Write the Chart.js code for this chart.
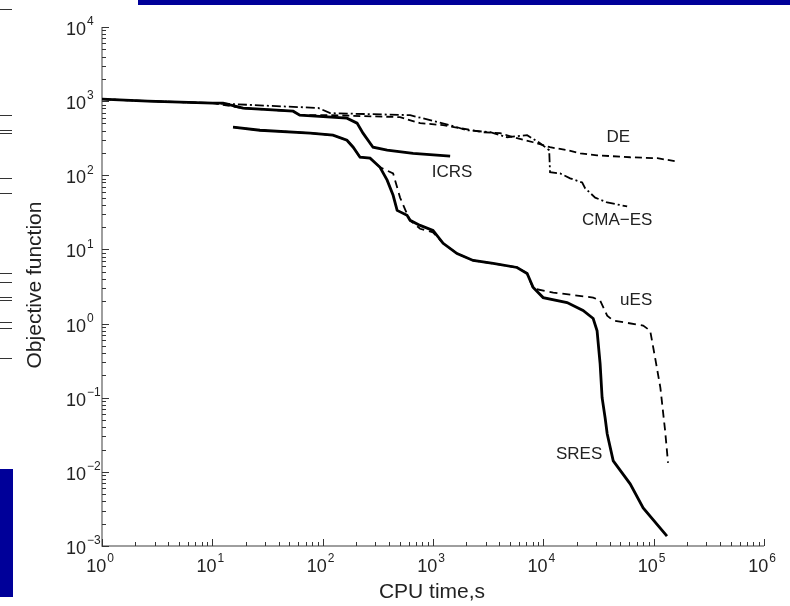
<!DOCTYPE html>
<html>
<head>
<meta charset="utf-8">
<script src="https://cdn.jsdelivr.net/npm/chart.js@4/dist/chart.umd.min.js"></script>
<style>
  body { margin: 0; background: #fff; }
  #wrap { position: relative; width: 790px; height: 606px; overflow: hidden; }
  canvas { position: absolute; left: 0; top: 0; }
  .bar { position: absolute; background: #000099; }
  .glyph { position: absolute; left: 0; width: 12px; height: 1px; background: #333; }
</style>
</head>
<body>
<div id="wrap">
  <canvas id="chart" width="790" height="606"></canvas>
  <div class="bar" style="left:138px;top:0;width:652px;height:5px"></div>
  <div class="bar" style="left:0;top:469px;width:13px;height:128px"></div>
</div>
<script>
// CPU time (s) / objective value pairs
const icrsTime = [1, 2.6, 10.1, 12.5, 19, 54, 62, 166, 205, 232, 286, 384, 660, 1430];
const icrsObj = [1064, 1000, 940, 940, 804, 732, 647, 589, 505, 370, 239, 218, 198, 181];

const deTime = [1, 2.6, 10.1, 19, 54, 62, 117, 503, 764, 1236, 1762, 2845, 4060, 5780, 8090, 11500, 16400, 21600, 30700, 61200, 108000, 157000];
const deObj = [1064, 1000, 940, 804, 732, 647, 647, 608, 505, 474, 432, 381, 370, 316, 279, 239, 218, 198, 186, 175, 170, 155];

const cmaTime = [1, 2.6, 10.1, 30, 91, 117, 620, 1430, 2040, 3300, 4700, 7130, 9350, 11300, 11500, 14200, 17500, 22500, 23900, 29500, 37900, 57500];
const cmaObj = [1064, 1000, 940, 870, 810, 689, 647, 474, 405, 381, 326, 347, 271, 218, 110, 106, 91, 80, 67, 50, 43, 38];

const sresTime = [15.4, 27, 77, 124, 166, 189, 218, 269, 331, 384, 435, 473, 582, 620, 764, 1000, 1236, 1652, 2311, 3510, 5780, 7130, 8090, 9960, 16400, 22900, 28300, 30700, 32700, 34100, 36300, 37900, 43000, 61200, 80300, 132000];
const sresObj = [445, 405, 370, 347, 297, 239, 175, 170, 128, 86, 53.7, 33.6, 28.8, 24.7, 21.1, 18.1, 12.1, 8.8, 7.1, 6.47, 5.71, 4.74, 3.07, 2.24, 1.92, 1.5, 1.17, 0.8, 0.288, 0.1, 0.0537, 0.0327, 0.0141, 0.00689, 0.00327, 0.00136];

const uesTime = [15.4, 27, 77, 124, 166, 189, 218, 269, 331, 435, 503, 582, 620, 764, 1000, 1236, 1652, 2311, 3510, 5780, 7130, 8090, 12300, 28300, 32700, 37900, 43000, 80300, 93000, 103000, 115000, 127000, 135000];
const uesObj = [445, 405, 370, 347, 297, 239, 175, 170, 128, 106, 50, 30, 24.7, 19, 17, 12.1, 8.8, 7.1, 6.47, 5.71, 4.74, 2.97, 2.62, 2.24, 2.05, 1.28, 1.1, 0.94, 0.8, 0.347, 0.137, 0.0358, 0.0132];

// curve names written beside the lines
const labelNames = ["DE", "ICRS", "CMA\u2212ES", "uES", "SRES"];
const labelTime = [47700, 1490, 46700, 69400, 21100];
const labelObj = [326, 110, 24.7, 2.05, 0.0175];

const xDecades = [0, 1, 2, 3, 4, 5, 6];
const yDecades = [-3, -2, -1, 0, 1, 2, 3, 4];

// stray marks of the neighbouring figure on the left edge
const glyphY = [9, 115, 130, 133, 178, 193, 273, 282, 297, 300, 322, 328, 358];
const wrap = document.getElementById("wrap");
glyphY.forEach((y) => {
  const g = document.createElement("div");
  g.className = "glyph";
  g.style.top = y + "px";
  wrap.appendChild(g);
});

const pts = (xs, ys) => xs.map((x, i) => ({ x: x, y: ys[i] }));
const FONT = '"Liberation Sans", Arial, sans-serif';

function drawPow(ctx, exp, x, y, align) {
  const base = "10";
  const e = String(exp).replace("-", "\u2212");
  ctx.font = "18px " + FONT;
  const bw = ctx.measureText(base).width;
  ctx.font = "12px " + FONT;
  const ew = ctx.measureText(e).width;
  let left = x;
  if (align === "center") left = x - (bw + ew + 1) / 2;
  ctx.textAlign = "left";
  ctx.textBaseline = "middle";
  ctx.font = "18px " + FONT;
  ctx.fillText(base, left, y);
  ctx.font = "12px " + FONT;
  ctx.fillText(e, left + bw + 1, y - 8);
}

const axesPlugin = {
  id: "axesPlugin",
  beforeDatasetsDraw(chart) {
    const ctx = chart.ctx;
    const xs = chart.scales.x;
    const ys = chart.scales.y;
    const a = chart.chartArea;
    ctx.save();
    ctx.strokeStyle = "#7f7f7f";
    ctx.lineWidth = 1.5;
    ctx.beginPath();
    ctx.moveTo(a.left, a.top);
    ctx.lineTo(a.left, a.bottom);
    ctx.lineTo(a.right, a.bottom);
    ctx.stroke();

    ctx.strokeStyle = "#333";
    ctx.lineWidth = 1;
    ctx.beginPath();
    xDecades.forEach((d) => {
      if (d === 6) return;
      for (let m = 1; m <= 9; m++) {
        const px = Math.round(xs.getPixelForValue(m * Math.pow(10, d))) + 0.5;
        const len = m === 1 ? 7 : 4;
        ctx.moveTo(px, a.bottom);
        ctx.lineTo(px, a.bottom - len);
      }
    });
    const px6 = Math.round(xs.getPixelForValue(1e6)) + 0.5;
    ctx.moveTo(px6, a.bottom);
    ctx.lineTo(px6, a.bottom - 7);
    yDecades.forEach((d) => {
      if (d === 4) return;
      for (let m = 1; m <= 9; m++) {
        const py = Math.round(ys.getPixelForValue(m * Math.pow(10, d))) + 0.5;
        const len = m === 1 ? 7 : 4;
        ctx.moveTo(a.left, py);
        ctx.lineTo(a.left + len, py);
      }
    });
    const py4 = Math.round(ys.getPixelForValue(1e4)) + 0.5;
    ctx.moveTo(a.left, py4);
    ctx.lineTo(a.left + 7, py4);
    ctx.stroke();

    ctx.fillStyle = "#222";
    xDecades.forEach((d) => {
      const px = xs.getPixelForValue(Math.pow(10, d));
      drawPow(ctx, d, px - 2, a.bottom + 21, "center");
    });
    yDecades.forEach((d) => {
      const py = ys.getPixelForValue(Math.pow(10, d));
      drawPow(ctx, d, 66, py + 3, "left");
    });

    ctx.font = "21px " + FONT;
    ctx.textAlign = "center";
    ctx.textBaseline = "middle";
    ctx.fillText("CPU time,s", 432, 592);
    ctx.translate(35, 285);
    ctx.rotate(-Math.PI / 2);
    ctx.fillText("Objective function", 0, 0);
    ctx.restore();
  },
  afterDraw(chart) {
    const ctx = chart.ctx;
    const xs = chart.scales.x;
    const ys = chart.scales.y;
    ctx.save();
    ctx.fillStyle = "#222";
    ctx.font = "17px " + FONT;
    ctx.textAlign = "center";
    ctx.textBaseline = "middle";
    labelNames.forEach((name, i) => {
      ctx.fillText(name, xs.getPixelForValue(labelTime[i]), ys.getPixelForValue(labelObj[i]));
    });
    ctx.restore();
  },
};

const line = (data, width, dash) => ({
  data: data,
  borderColor: "#000",
  borderWidth: width,
  borderDash: dash,
  pointRadius: 0,
  tension: 0,
  fill: false,
  clip: false,
});

new Chart(document.getElementById("chart"), {
  type: "line",
  data: {
    datasets: [
      line(pts(deTime, deObj), 1.8, [7, 4]),
      line(pts(cmaTime, cmaObj), 1.8, [9, 3, 2, 3]),
      line(pts(uesTime, uesObj), 1.8, [8, 5]),
      line(pts(icrsTime, icrsObj), 2.8, []),
      line(pts(sresTime, sresObj), 2.8, []),
    ],
  },
  options: {
    responsive: false,
    animation: false,
    layout: { padding: { left: 102, top: 27, right: 26, bottom: 60 } },
    plugins: { legend: { display: false }, tooltip: { enabled: false } },
    scales: {
      x: { type: "logarithmic", min: 1, max: 1e6, display: false },
      y: { type: "logarithmic", min: 1e-3, max: 1e4, display: false },
    },
  },
  plugins: [axesPlugin],
});
</script>
</body>
</html>
